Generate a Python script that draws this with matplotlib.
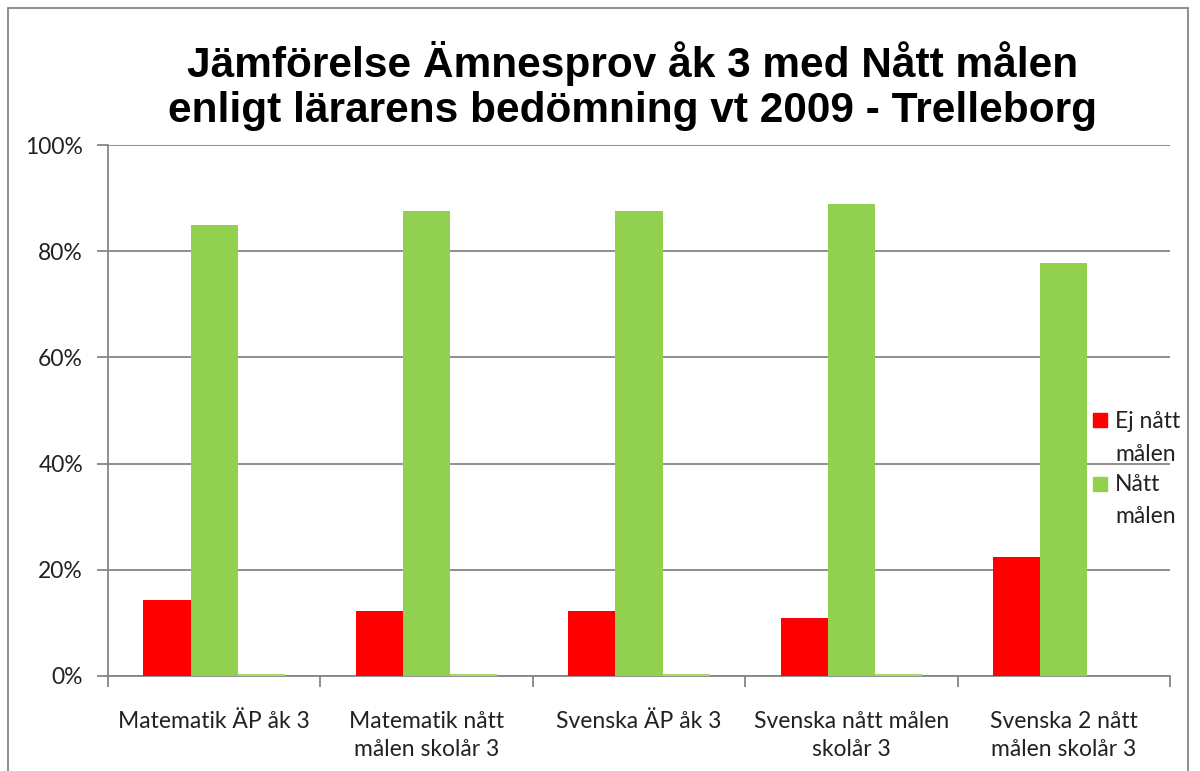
import matplotlib
matplotlib.use("Agg")
import matplotlib.pyplot as plt
from matplotlib.patches import Rectangle
import numpy as np

categories = ["Matematik ÄP åk 3", "Matematik nått\nmålen skolår 3", "Svenska ÄP åk 3",
              "Svenska nått målen\nskolår 3", "Svenska 2 nått\nmålen skolår 3"]
ej_natt = [14.3, 12.2, 12.2, 10.9, 22.4]
natt = [84.9, 87.6, 87.6, 88.9, 77.8]
ovrigt = [0.3, 0.3, 0.3, 0.3, 0.0]
yticks = [0, 20, 40, 60, 80, 100]
series_labels = [["Ej nått", "målen"], ["Nått", "målen"]]
series_colors = ["#FF0000", "#92D050"]
title = "Jämförelse Ämnesprov åk 3 med Nått målen\nenligt lärarens bedömning vt 2009 - Trelleborg"

W, H = 1200, 771
FS = 16.5
fig = plt.figure(figsize=(W / 100, H / 100), dpi=100)
ax = fig.add_axes([108 / W, 1 - 676 / H, (1170 - 108) / W, (676 - 145) / H])

x = np.arange(len(categories))
bw = 1 / 4.5
ax.bar(x - bw, ej_natt, bw, color=series_colors[0], zorder=3)
ax.bar(x, natt, bw, color=series_colors[1], zorder=3)
ax.bar(x + bw, ovrigt, bw, color="#A6D96A", zorder=3)

ax.set_xlim(-0.5, len(categories) - 0.5)
ax.set_ylim(0, 100)
ax.set_yticks(yticks)
ax.set_yticklabels([f"{v}%" for v in yticks], fontsize=FS, family="Lato", color="#222222")
ax.yaxis.grid(True, color="#868686", linewidth=1.3, zorder=0)
ax.set_xticks(x)
ax.set_xticklabels(categories, fontsize=FS, family="Lato", color="#222222", linespacing=1.4)
ax.set_xticks(np.arange(len(categories) + 1) - 0.5, minor=True)
ax.tick_params(axis="x", which="major", length=0, pad=25)
ax.tick_params(axis="x", which="minor", length=8, color="#868686", width=1.3)
ax.tick_params(axis="y", length=8, color="#868686", width=1.3, pad=10)
for s in ["top", "right"]:
    ax.spines[s].set_visible(False)
for s in ["left", "bottom"]:
    ax.spines[s].set_color("#868686")
    ax.spines[s].set_linewidth(1.3)

# legend drawn manually to match Excel's wrapped labels
baselines = [[428, 461], [491, 523]]
marker_tops = [413, 477]
for lines, col, bl, mt in zip(series_labels, series_colors, baselines, marker_tops):
    fig.patches.append(Rectangle((1093 / W, 1 - (mt + 14) / H), 14 / W, 14 / H,
                                 transform=fig.transFigure, color=col, zorder=5))
    for line, b in zip(lines, bl):
        fig.text(1115 / W, 1 - b / H, line, ha="left", va="baseline", fontsize=FS,
                 family="Lato", color="#222222", zorder=5)

fig.text(633 / W, 1 - 86 / H, title, ha="center", va="center", fontsize=30.5,
         fontweight="bold", family="Liberation Sans", linespacing=1.15)

fig.patches.append(Rectangle((8 / W, -0.05), (1188 - 8) / W, (1 - 8 / H) + 0.05,
                             transform=fig.transFigure, fill=False,
                             edgecolor="#868686", linewidth=1.3))

fig.savefig("out.png", dpi=100)
